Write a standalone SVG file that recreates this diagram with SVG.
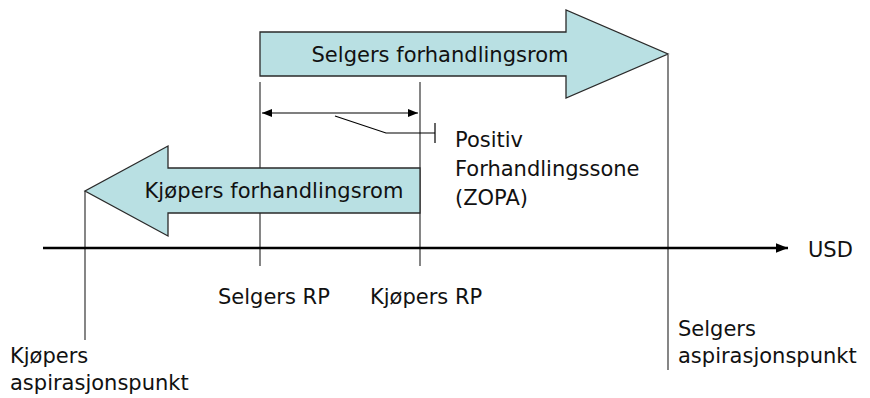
<svg xmlns="http://www.w3.org/2000/svg" width="870" height="398" viewBox="0 0 870 398">
  <defs>
    <style>
      .bg { fill: #ffffff; }
      .band { fill: #b9e0e3; stroke: #2a2a2a; stroke-width: 1.3; }
      .guide { stroke: #444; stroke-width: 1.3; fill: none; }
      .axis { stroke: #000; stroke-width: 2.5; fill: none; }
      .thin { stroke: #000; stroke-width: 1.2; fill: none; }
      .lbl { font-family: "DejaVu Sans", Tahoma, sans-serif; font-size: 21px; fill: #111; }
      .big { font-family: "DejaVu Sans", Tahoma, sans-serif; font-size: 21px; fill: #111; }
    </style>
    <marker id="head" viewBox="0 0 10 10" refX="10" refY="5" markerWidth="10" markerHeight="10" markerUnits="userSpaceOnUse" orient="auto-start-reverse">
      <path d="M0,1 L10,5 L0,9 Z" fill="#000"/>
    </marker>
    <marker id="axhead" viewBox="0 0 10 10" refX="10" refY="5" markerWidth="14" markerHeight="12" markerUnits="userSpaceOnUse" orient="auto">
      <path d="M0,1 L10,5 L0,9 Z" fill="#000"/>
    </marker>
  </defs>
  <rect class="bg" x="0" y="0" width="870" height="398"/>

  <!-- guide lines and axis -->
  <g id="connectors">
    <line class="guide" x1="260" y1="82" x2="260" y2="266"/>
    <line class="guide" x1="420" y1="82" x2="420" y2="266"/>
    <line class="guide" x1="668" y1="55" x2="668" y2="370"/>
    <line class="guide" x1="85" y1="191" x2="85" y2="340"/>
    <line class="axis" x1="43" y1="248" x2="788" y2="248" marker-end="url(#axhead)"/>
    <line class="thin" x1="262" y1="113" x2="418" y2="113" marker-start="url(#head)" marker-end="url(#head)"/>
    <polyline class="thin" points="335,116 386,133 435,133"/>
    <line class="thin" x1="435" y1="123" x2="435" y2="143"/>
  </g>

  <g id="selgers-rom">
    <path class="band" d="M260,32 L566,32 L566,10 L668,54 L566,98 L566,76 L260,76 Z"/>
    <text class="big" x="440" y="62" text-anchor="middle" textLength="257">Selgers forhandlingsrom</text>
  </g>

  <g id="kjopers-rom">
    <path class="band" d="M420,168 L168,168 L168,146 L85,191 L168,236 L168,213 L420,213 Z"/>
    <text class="big" x="274" y="198" text-anchor="middle" textLength="259">Kjøpers forhandlingsrom</text>
  </g>

  <g id="zopa">
    <text class="lbl" x="455" y="147">Positiv</text>
    <text class="lbl" x="455" y="176">Forhandlingssone</text>
    <text class="lbl" x="455" y="205">(ZOPA)</text>
  </g>

  <g id="usd"><text class="lbl" x="808" y="257">USD</text></g>
  <g id="selgers-rp"><text class="lbl" x="218" y="304">Selgers RP</text></g>
  <g id="kjopers-rp"><text class="lbl" x="370" y="304">Kjøpers RP</text></g>
  <g id="kjopers-asp">
    <text class="lbl" x="10" y="363">Kjøpers</text>
    <text class="lbl" x="10" y="390">aspirasjonspunkt</text>
  </g>
  <g id="selgers-asp">
    <text class="lbl" x="678" y="336">Selgers</text>
    <text class="lbl" x="678" y="363">aspirasjonspunkt</text>
  </g>
</svg>
